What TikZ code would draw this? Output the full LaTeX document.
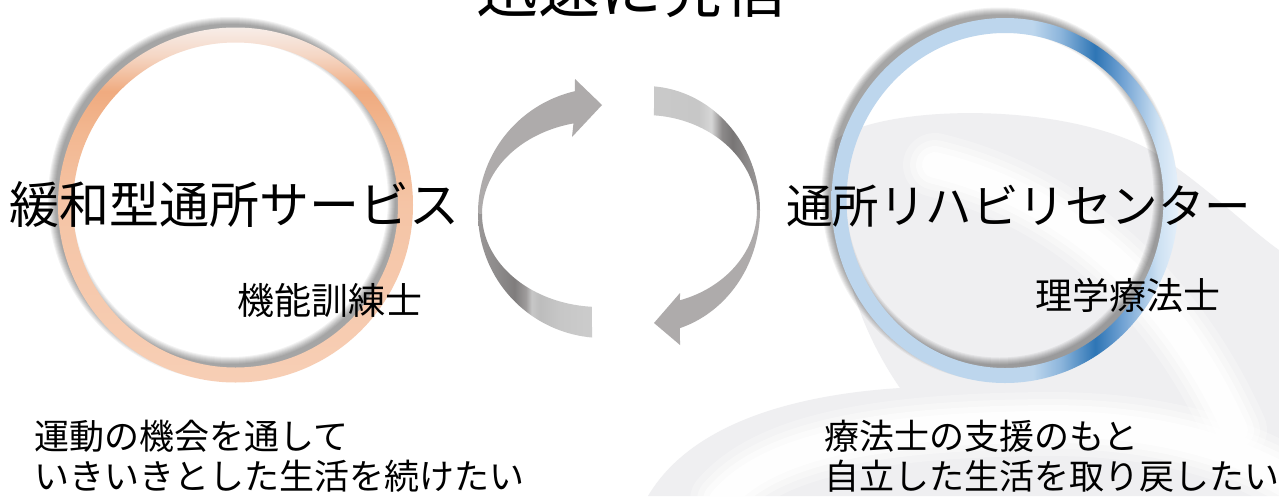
\documentclass[tikz,border=0pt]{standalone}
\usepackage{fontspec}
\newfontfamily\jpfont{Noto Sans CJK JP}
\definecolor{arrowgray}{RGB}{174,171,171}
\definecolor{swirlgray}{RGB}{239,239,241}
\pgfdeclareverticalshading{orangering}{100bp}{rgb(0bp)=(0.97,0.81,0.71); rgb(25bp)=(0.97,0.81,0.71); rgb(50bp)=(0.96,0.77,0.65); rgb(60bp)=(0.95,0.72,0.57); rgb(66bp)=(0.94,0.67,0.50); rgb(71bp)=(0.96,0.84,0.77); rgb(75bp)=(0.97,0.93,0.91); rgb(100bp)=(0.97,0.93,0.91)}
\pgfdeclarehorizontalshading{bluering}{100bp}{rgb(0bp)=(0.74,0.84,0.93); rgb(25bp)=(0.74,0.84,0.93); rgb(54bp)=(0.74,0.84,0.93); rgb(58bp)=(0.55,0.71,0.86); rgb(63bp)=(0.18,0.46,0.71); rgb(67bp)=(0.45,0.64,0.83); rgb(72bp)=(0.80,0.88,0.95); rgb(75bp)=(0.90,0.94,0.98); rgb(100bp)=(0.90,0.94,0.98)}
\pgfdeclarehorizontalshading{leftlow}{100bp}{rgb(0bp)=(0.60,0.59,0.59); rgb(25bp)=(0.60,0.59,0.59); rgb(34bp)=(0.55,0.54,0.54); rgb(41bp)=(0.50,0.49,0.49); rgb(46bp)=(0.62,0.61,0.61); rgb(48.5bp)=(0.78,0.78,0.78); rgb(52bp)=(0.74,0.74,0.74); rgb(61bp)=(0.78,0.78,0.78); rgb(75bp)=(0.80,0.80,0.80); rgb(100bp)=(0.80,0.80,0.80)}
\pgfdeclarehorizontalshading{rightup}{100bp}{rgb(0bp)=(0.79,0.79,0.79); rgb(25bp)=(0.79,0.79,0.79); rgb(46bp)=(0.78,0.78,0.78); rgb(52bp)=(0.84,0.84,0.84); rgb(57bp)=(0.55,0.54,0.54); rgb(62bp)=(0.47,0.46,0.46); rgb(69bp)=(0.55,0.54,0.54); rgb(75bp)=(0.61,0.60,0.60); rgb(100bp)=(0.61,0.60,0.60)}
\tikzset{
  jptext/.style={inner sep=0pt, outer sep=0pt, anchor=base west, text=black},
  bigtitle/.style={jptext, font=\jpfont\fontsize{62}{62}\selectfont},
  ringtitle/.style={jptext, font=\jpfont\fontsize{#1}{#1}\selectfont},
  caption/.style={jptext, font=\jpfont\fontsize{35}{40}\selectfont},
  softwhite/.style={white, line cap=round, line join=round},
  shadowring/.style={black, opacity=0.05}
}
\begin{document}
\begin{tikzpicture}[x=1pt,y=-1pt]
\useasboundingbox (0,0) rectangle (1279,496);
\fill[white] (0,0) rectangle (1279,496);
% background swirls
\fill[swirlgray] (835,140) .. controls (880,105) and (1060,100) .. (1150,150)
  .. controls (1200,180) and (1250,230) .. (1279,250) -- (1279,496) -- (648,496)
  .. controls (690,425) and (790,395) .. (900,388)
  .. controls (860,330) and (830,250) .. (835,140) -- cycle;
\foreach \w/\o in {64/0.25,50/0.35,38/0.5,26/0.8}{
  \draw[softwhite, line width=\w pt, opacity=\o] (935,165) .. controls (1060,195) and (1170,285) .. (1235,430);
  \draw[softwhite, line width=\w pt, opacity=\o] (722,500) .. controls (770,445) and (880,425) .. (1050,424) .. controls (1150,424) and (1230,445) .. (1290,480);
}
% ring shadows
\foreach \i in {0,...,7}{
  \pgfmathsetmacro\lw{10+2*\i}
  \draw[shadowring, line width=\lw pt] (230,199) circle[radius=170];
  \draw[shadowring, line width=\lw pt] (999.5,194.5) circle[x radius=166, y radius=175];
}
% rings
\shade[even odd rule, shading=orangering] (235.5,205) circle[radius=177.5] (235.5,205) circle[radius=162.5];
\shade[even odd rule, shading=bluering] (1005,200.5) circle[x radius=173.5, y radius=182.5] (1005,200.5) circle[x radius=158.5, y radius=167.5];
% left cycle arrow
\fill[arrowgray] plot[domain=180:257, samples=40] ({603+125*cos(\x)},{213+125*sin(\x)})
  -- (575,79) -- (602,105) -- (572,137)
  -- plot[domain=257:180, samples=40] ({600+118*cos(\x)},{214+93*sin(\x)}) -- cycle;
\shade[shading=leftlow] plot[domain=95:180, samples=40] ({603+125*cos(\x)},{213+125*sin(\x)})
  -- plot[domain=180:94, samples=40] ({600+118*cos(\x)},{214+93*sin(\x)}) -- cycle;
% right cycle arrow
\shade[shading=rightup] plot[domain=-85.5:0, samples=40] ({645+115*cos(\x)},{210+124*sin(\x)})
  -- plot[domain=0:-85.4, samples=40] ({645+112*cos(\x)},{210+95*sin(\x)}) -- cycle;
\fill[arrowgray] plot[domain=0:72.3, samples=40] ({645+115*cos(\x)},{210+124*sin(\x)})
  -- (680,345) -- (654,323) -- (680,293)
  -- plot[domain=71.8:0, samples=40] ({645+112*cos(\x)},{210+95*sin(\x)}) -- cycle;
% texts
\node[bigtitle] (title) at (476,12.5) {迅速に発信};
\node[ringtitle=50] (left) at (9.5,223.5) {緩和型通所サービス};
\node[ringtitle=37] (leftrole) at (237,314.4) {機能訓練士};
\node[ringtitle=46.5] (right) at (786,223.7) {通所リハビリセンター};
\node[ringtitle=37] (rightrole) at (1035,309.4) {理学療法士};
\node[caption] (leftcap1) at (34.5,449.5) {運動の機会を通して};
\node[caption] (leftcap2) at (34.5,489.5) {いきいきとした生活を続けたい};
\node[caption] (rightcap1) at (824.5,449.5) {療法士の支援のもと};
\node[caption] (rightcap2) at (824.5,489.5) {自立した生活を取り戻したい};
\end{tikzpicture}
\end{document}
